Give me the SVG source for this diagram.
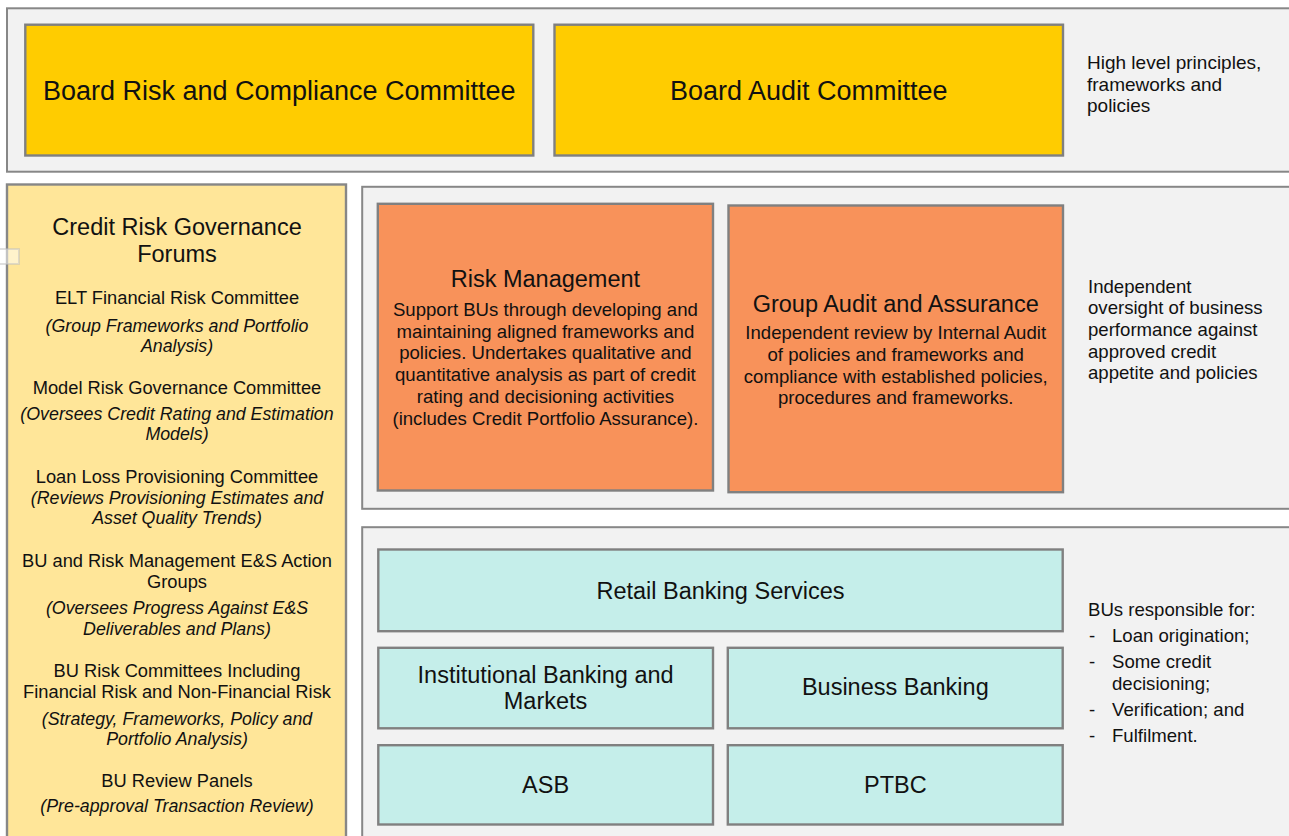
<svg xmlns="http://www.w3.org/2000/svg" width="1289" height="836" viewBox="0 0 1289 836">
<style>
.panel{fill:#f2f2f2;stroke:#878787;stroke-width:2}
.yl{fill:#ffcc00;stroke:#808080;stroke-width:2.4}
.ly{fill:#ffe699;stroke:#878787;stroke-width:2.4}
.or{fill:#f8925a;stroke:#808080;stroke-width:2.4}
.tl{fill:#c5eeea;stroke:#808080;stroke-width:2.4}
text{font-family:"Liberation Sans",Arial,sans-serif;fill:#111}
.c{text-anchor:middle}
.t27{font-size:27px}
.t23{font-size:23.5px}
.t18{font-size:18.3px}
.t185{font-size:18.6px}
.t19{font-size:19px}
.i{font-style:italic;font-size:17.8px}
</style>
<rect width="1289" height="836" fill="#ffffff"/>

<g id="panel-board">
<rect class="panel" x="7" y="8.3" width="1300" height="163.4"/>
<text class="t19" x="1087" y="69.3">High level principles,</text>
<text class="t19" x="1087" y="90.5">frameworks and</text>
<text class="t19" x="1087" y="111.7">policies</text>
</g>

<g id="node-brcc">
<rect class="yl" x="25.3" y="24.7" width="508" height="130.8"/>
<text class="t27 c" x="279.3" y="100">Board Risk and Compliance Committee</text>
</g>

<g id="node-bac">
<rect class="yl" x="554.5" y="24.7" width="508.5" height="130.8"/>
<text class="t27 c" x="808.7" y="100">Board Audit Committee</text>
</g>

<g id="node-forums">
<rect class="ly" x="7" y="184.5" width="339" height="700"/>
<text class="t23 c" x="177" y="235">Credit Risk Governance</text>
<text class="t23 c" x="177" y="262">Forums</text>
<text class="t18 c" x="177" y="304">ELT Financial Risk Committee</text>
<text class="t18 c i" x="177" y="332">(Group Frameworks and Portfolio</text>
<text class="t18 c i" x="177" y="352">Analysis)</text>
<text class="t18 c" x="177" y="394">Model Risk Governance Committee</text>
<text class="t18 c i" x="177" y="420">(Oversees Credit Rating and Estimation</text>
<text class="t18 c i" x="177" y="440">Models)</text>
<text class="t18 c" x="177" y="483">Loan Loss Provisioning Committee</text>
<text class="t18 c i" x="177" y="503.5">(Reviews Provisioning Estimates and</text>
<text class="t18 c i" x="177" y="524">Asset Quality Trends)</text>
<text class="t18 c" x="177" y="566.7">BU and Risk Management E&amp;S Action</text>
<text class="t18 c" x="177" y="587.5">Groups</text>
<text class="t18 c i" x="177" y="613.5">(Oversees Progress Against E&amp;S</text>
<text class="t18 c i" x="177" y="634.5">Deliverables and Plans)</text>
<text class="t18 c" x="177" y="677">BU Risk Committees Including</text>
<text class="t18 c" x="177" y="698">Financial Risk and Non-Financial Risk</text>
<text class="t18 c i" x="177" y="724.5">(Strategy, Frameworks, Policy and</text>
<text class="t18 c i" x="177" y="745">Portfolio Analysis)</text>
<text class="t18 c" x="177" y="787">BU Review Panels</text>
<text class="t18 c i" x="177" y="812">(Pre-approval Transaction Review)</text>
</g>

<rect x="-3" y="249" width="22" height="15" fill="#ffffff" fill-opacity="0.5" stroke="#bfbfbf" stroke-opacity="0.5" stroke-width="2"/>

<g id="panel-oversight">
<rect class="panel" x="362.2" y="186.8" width="940" height="322"/>
<text class="t185" x="1088" y="292.7">Independent</text>
<text class="t185" x="1088" y="314.3">oversight of business</text>
<text class="t185" x="1088" y="336">performance against</text>
<text class="t185" x="1088" y="357.5">approved credit</text>
<text class="t185" x="1088" y="379">appetite and policies</text>
</g>

<g id="node-risk-management">
<rect class="or" x="377.8" y="203.8" width="335.2" height="286.7"/>
<text class="t23 c" x="545.4" y="287">Risk Management</text>
<text class="t185 c" x="545.4" y="316">Support BUs through developing and</text>
<text class="t185 c" x="545.4" y="337.7">maintaining aligned frameworks and</text>
<text class="t185 c" x="545.4" y="359.4">policies. Undertakes qualitative and</text>
<text class="t185 c" x="545.4" y="381">quantitative analysis as part of credit</text>
<text class="t185 c" x="545.4" y="402.8">rating and decisioning activities</text>
<text class="t185 c" x="545.4" y="424.5">(includes Credit Portfolio Assurance).</text>
</g>

<g id="node-group-audit">
<rect class="or" x="728.5" y="205.5" width="334.5" height="286.7"/>
<text class="t23 c" x="895.7" y="311.7">Group Audit and Assurance</text>
<text class="t185 c" x="895.7" y="339.3">Independent review by Internal Audit</text>
<text class="t185 c" x="895.7" y="361">of policies and frameworks and</text>
<text class="t185 c" x="895.7" y="382.7">compliance with established policies,</text>
<text class="t185 c" x="895.7" y="404.3">procedures and frameworks.</text>
</g>

<g id="panel-bus">
<rect class="panel" x="362.2" y="527.2" width="940" height="330"/>
<text class="t185" x="1088" y="616">BUs responsible for:</text>
<text class="t185" x="1089" y="642.3">-</text>
<text class="t185" x="1112" y="642.3">Loan origination;</text>
<text class="t185" x="1089" y="668.3">-</text>
<text class="t185" x="1112" y="668.3">Some credit</text>
<text class="t185" x="1112" y="689.5">decisioning;</text>
<text class="t185" x="1089" y="716">-</text>
<text class="t185" x="1112" y="716">Verification; and</text>
<text class="t185" x="1089" y="742">-</text>
<text class="t185" x="1112" y="742">Fulfilment.</text>
</g>

<g id="node-retail">
<rect class="tl" x="378.3" y="549.5" width="684.4" height="81.7"/>
<text class="t23 c" x="720.5" y="599.3">Retail Banking Services</text>
</g>

<g id="node-ibm">
<rect class="tl" x="378.3" y="647.8" width="334.7" height="80.5"/>
<text class="t23 c" x="545.6" y="682.7">Institutional Banking and</text>
<text class="t23 c" x="545.6" y="709.3">Markets</text>
</g>

<g id="node-business">
<rect class="tl" x="727.8" y="647.8" width="334.9" height="80.5"/>
<text class="t23 c" x="895.3" y="695">Business Banking</text>
</g>

<g id="node-asb">
<rect class="tl" x="378.3" y="745.2" width="334.7" height="79.3"/>
<text class="t23 c" x="545.6" y="792.7">ASB</text>
</g>

<g id="node-ptbc">
<rect class="tl" x="727.8" y="745.2" width="334.9" height="79.3"/>
<text class="t23 c" x="895.3" y="792.7">PTBC</text>
</g>

<g id="connectors"></g>
</svg>
